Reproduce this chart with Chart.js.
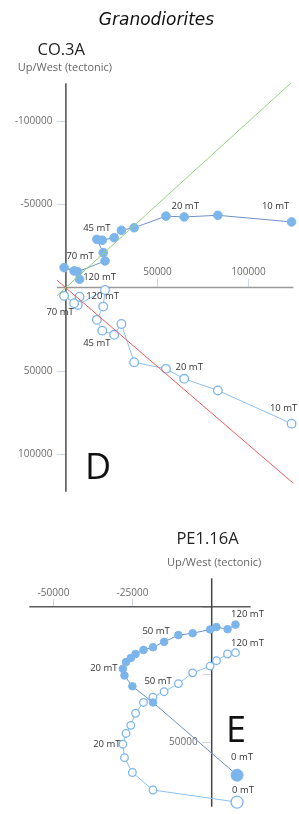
<!DOCTYPE html>
<html>
<head>
<meta charset="utf-8">
<script src="https://cdn.jsdelivr.net/npm/chart.js@4.4.0/dist/chart.umd.min.js"></script>
<style>
    html, body { margin: 0; padding: 0; background: #fff; }
    body { width: 299px; height: 814px; position: relative; overflow: hidden; }
    .box { position: absolute; left: 0; width: 299px; }
    #boxD { top: 0; height: 520px; }
    #boxE { top: 520px; height: 294px; }
    .heading { position: absolute; top: 9px; left: 0; width: 313px; line-height: 20px; text-align: center;
               font: italic 17px "DejaVu Sans", sans-serif; color: #111; }
</style>
</head>
<body>
<div class="box" id="boxD"><canvas id="chartD"></canvas></div>
<div class="box" id="boxE"><canvas id="chartE"></canvas></div>
<div class="heading">Granodiorites</div>
<script>
(function () {
    "use strict";

    // Panel D - CO.3A (demag steps, N axis, horizontal W, vertical Up)
    const stepsD = ['10 mT', '', '20 mT', '', '', '', '', '', '45 mT', '', '', '', '70 mT', '', '120 mT'];
    const northD = [124000, 83500, 65000, 55000, 37500, 30500, 26500, 20000, 17000, 20500, 21500, 6500, -1000, 4500, 7500];
    const westD = [-39500, -43500, -42500, -43000, -36000, -34500, -30000, -28500, -29000, -21000, -16000, -9500, -12000, -10000, -5000];
    const upD = [82000, 62000, 55000, 49000, 45000, 22000, 28500, 26000, 19500, 11500, 1500, 10500, 5000, 9500, 5500];

    // fitted directions for panel D
    const fitNorthD = [-5000, 125000];
    const fitWestD = [5000, -124500];
    const fitUpD = [-4500, 118000];

    const xTicksD = [50000, 100000];
    const xTickLabelsD = ['50000', '100000'];
    const yTicksD = [-100000, -50000, 50000, 100000];
    const yTickLabelsD = ['-100000', '-50000', '50000', '100000'];

    // Panel E - PE1.16A
    const stepsE = ['0 mT', '', '', '', '20 mT', '', '', '', '', '', '50 mT', '', '', '', '', '', '120 mT'];
    const northE = [8000, -18500, -25000, -27500, -28000, -27000, -25500, -24000, -21500, -18500, -15000, -10500, -6000, -500, 1500, 5000, 7500];
    const westE = [62500, 35500, 29500, 25500, 23000, 20500, 19000, 17500, 16000, 15000, 13000, 10500, 9800, 8400, 7500, 8300, 6600];
    const upE = [72500, 68000, 61500, 56000, 51000, 47000, 44000, 39500, 35500, 33500, 31500, 28500, 24500, 22000, 20000, 17500, 17000];

    const xTicksE = [-50000, -25000];
    const xTickLabelsE = ['-50000', '-25000'];
    const yTicksE = [0, 25000, 50000];
    const yTickLabelsE = ['', '', '50000'];


    const BLUE = '#7cb5ec';

    function pts(xs, ys) {
        return xs.map(function (v, i) { return {x: v, y: ys[i]}; });
    }

    // Axes crossing at the origin, titles and step labels
    const zijPlugin = {
        id: 'zij',
        beforeDatasetsDraw: function (chart, args, o) {
            const ctx = chart.ctx, a = chart.chartArea;
            const x = chart.scales.x, y = chart.scales.y;
            const ox = x.getPixelForValue(0), oy = y.getPixelForValue(0);
            ctx.save();
            ctx.lineWidth = 1;
            ctx.strokeStyle = '#ccd6eb';
            ctx.fillStyle = '#6b6b6b';
            ctx.font = '10px "Open Sans", sans-serif';
            o.xTicks.forEach(function (v, i) {
                const px = Math.round(x.getPixelForValue(v)) + 0.5;
                ctx.beginPath();
                ctx.moveTo(px, oy);
                ctx.lineTo(px, oy - o.tickLen);
                ctx.stroke();
                ctx.textAlign = 'center';
                ctx.textBaseline = 'middle';
                ctx.fillText(o.xLabels[i], px, oy - o.xGap);
            });
            o.yTicks.forEach(function (v, i) {
                const py = Math.round(y.getPixelForValue(v)) + 0.5;
                ctx.beginPath();
                ctx.moveTo(ox - 9, py);
                ctx.lineTo(ox - 1, py);
                ctx.stroke();
                ctx.textAlign = 'right';
                ctx.textBaseline = 'middle';
                if (o.yLabels[i]) ctx.fillText(o.yLabels[i], ox - o.yGap, py);
            });
            ctx.lineWidth = 1.5;
            ctx.strokeStyle = o.xAxisColor;
            ctx.beginPath();
            ctx.moveTo(a.left, oy);
            ctx.lineTo(a.right, oy);
            ctx.stroke();
            ctx.strokeStyle = o.yAxisColor;
            ctx.beginPath();
            ctx.moveTo(ox, a.top);
            ctx.lineTo(ox, a.bottom);
            ctx.stroke();
            ctx.restore();
        },
        afterDraw: function (chart, args, o) {
            const ctx = chart.ctx;
            const ox = chart.scales.x.getPixelForValue(0);
            ctx.save();
            ctx.textAlign = 'center';
            ctx.textBaseline = 'alphabetic';
            ctx.fillStyle = '#222';
            ctx.font = '16.5px "Open Sans", sans-serif';
            ctx.fillText(o.title, ox + o.titleDx, o.titleY);
            ctx.fillStyle = '#666';
            ctx.font = '11px "Open Sans", sans-serif';
            ctx.fillText('Up/West (tectonic)', ox + o.subDx, o.subY);

            // step labels
            ctx.fillStyle = '#333';
            ctx.font = '9.5px "Open Sans", sans-serif';
            ctx.textBaseline = 'middle';
            chart.data.datasets.forEach(function (ds, di) {
                if (!ds.steps) return;
                const meta = chart.getDatasetMeta(di);
                ds.steps.forEach(function (t, i) {
                    if (!t) return;
                    const p = meta.data[i], off = ds.labelOffsets[i] || [0, -12];
                    ctx.fillText(t, p.x + off[0], p.y + off[1]);
                });
            });

            // panel letter
            ctx.fillStyle = '#111';
            ctx.textAlign = 'left';
            ctx.textBaseline = 'alphabetic';
            ctx.font = '36px "Liberation Sans Narrow", "Open Sans", sans-serif';
            ctx.fillText(o.letter, o.letterX, o.letterY);
            ctx.restore();
        }
    };

    function baseOptions(xMin, xMax, yMin, yMax, pad) {
        return {
            responsive: true,
            maintainAspectRatio: false,
            animation: false,
            events: [],
            layout: {padding: pad},
            scales: {
                x: {type: 'linear', min: xMin, max: xMax, display: false},
                y: {type: 'linear', min: yMin, max: yMax, reverse: true, display: false}
            },
            plugins: {
                legend: {display: false},
                tooltip: {enabled: false}
            }
        };
    }


    // Chart D
    var optsD = baseOptions(-5000, 125000, -123000, 123000, {left: 56.8, right: 3, top: 83.3, bottom: 28.3});
    optsD.plugins.zij = {
        xTicks: xTicksD, xLabels: xTickLabelsD, yTicks: yTicksD, yLabels: yTickLabelsD,
        tickLen: 9, xGap: 15, yGap: 13.5,
        xAxisColor: '#9a9a9a', yAxisColor: '#4d4d4d',
        title: 'CO.3A', titleDx: -4.7, titleY: 55,
        subDx: -1, subY: 70.5,
        letter: 'D', letterX: 85, letterY: 479
    };
    var chartD = new Chart(document.getElementById('chartD'), {
        type: 'scatter',
        data: {
            datasets: [{
                data: pts(fitNorthD, fitWestD),
                showLine: true, borderColor: '#93d47c', borderWidth: 1, pointRadius: 0
            }, {
                data: pts(fitNorthD, fitUpD),
                showLine: true, borderColor: '#f25a5a', borderWidth: 1, pointRadius: 0
            }, {
                data: pts(northD, westD),
                steps: stepsD,
                labelOffsets: {0: [-16, -16], 2: [1, -11], 8: [0, -11], 12: [16, -11], 14: [20, -2]},
                showLine: true, borderColor: '#6d92c6', borderWidth: 1,
                pointRadius: 4.3, pointBackgroundColor: BLUE, pointBorderColor: BLUE, pointBorderWidth: 1,
                clip: false
            }, {
                data: pts(northD, upD),
                steps: stepsD,
                labelOffsets: {0: [-8, -15], 2: [5, -12], 8: [0, 23], 12: [-4, 16], 14: [23, 0]},
                showLine: true, borderColor: '#8cc0ee', borderWidth: 1,
                pointRadius: 4.3, pointBackgroundColor: '#fff', pointBorderColor: BLUE, pointBorderWidth: 1.3,
                clip: false
            }]
        },
        options: optsD,
        plugins: [zijPlugin]
    });


    // Chart E
    var optsE = baseOptions(-57500, 12300, -10600, 74200, {left: 29.3, right: 48.3, top: 58.3, bottom: 0});
    optsE.plugins.zij = {
        xTicks: xTicksE, xLabels: xTickLabelsE, yTicks: yTicksE, yLabels: yTickLabelsE,
        tickLen: 8, xGap: 13.7, yGap: 14,
        xAxisColor: '#5a5a5a', yAxisColor: '#444',
        title: 'PE1.16A', titleDx: -4.2, titleY: 24.3,
        subDx: 2.5, subY: 45.7,
        letter: 'E', letterX: 226, letterY: 222
    };
    var chartE = new Chart(document.getElementById('chartE'), {
        type: 'scatter',
        data: {
            datasets: [{
                data: pts(northE, westE),
                steps: stepsE,
                labelOffsets: {0: [5, -18], 4: [-19, -1], 10: [-8, -11], 16: [12, -10]},
                showLine: true, borderColor: '#6d92c6', borderWidth: 1,
                pointRadius: function (c) { return c.dataIndex === 0 ? 6 : 3.8; },
                pointBackgroundColor: BLUE, pointBorderColor: BLUE, pointBorderWidth: 1,
                clip: false
            }, {
                data: pts(northE, upE),
                steps: stepsE,
                labelOffsets: {0: [6, -12], 4: [-16, 0], 10: [-6, -10], 16: [12, -9]},
                showLine: true, borderColor: '#8cc0ee', borderWidth: 1,
                pointRadius: function (c) { return c.dataIndex === 0 ? 6 : 3.8; },
                pointBackgroundColor: '#fff', pointBorderColor: BLUE, pointBorderWidth: 1.3,
                clip: false
            }]
        },
        options: optsE,
        plugins: [zijPlugin]
    });

})();
</script>
</body>
</html>
